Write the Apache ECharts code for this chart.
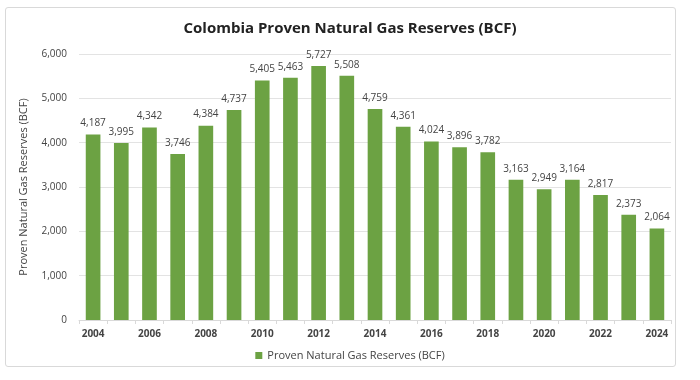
<!DOCTYPE html>
<html><head><meta charset="utf-8">
<script src="https://cdn.jsdelivr.net/npm/echarts@6/dist/echarts.min.js"></script>
<style>html,body{margin:0;padding:0;background:#fff}#frame{position:absolute;left:5px;top:7px;width:671px;height:360px;border:1px solid #d9d9d9;border-radius:3px;box-sizing:border-box}#c{width:700px;height:380px;position:absolute;left:0;top:0}</style>
</head><body><div id="frame"></div><div id="c"></div>
<script>
const years = ['2004','2005','2006','2007','2008','2009','2010','2011','2012','2013','2014','2015','2016','2017','2018','2019','2020','2021','2022','2023','2024'];
const reserves = [4187,3995,4342,3746,4384,4737,5405,5463,5727,5508,4759,4361,4024,3896,3782,3163,2949,3164,2817,2373,2064];
const seriesName = 'Proven Natural Gas Reserves (BCF)';
const titleText = 'Colombia Proven Natural Gas Reserves (BCF)';
const fmt = v => v.toLocaleString('en-US');
const font = '"Open Sans", "Noto Sans", sans-serif';
const chart = echarts.init(document.getElementById('c'));
chart.setOption({
  animation:false,
  textStyle:{fontFamily:font},
  title:{text:titleText,left:'center',top:16,textStyle:{fontSize:15,fontWeight:'bold',color:'#222',fontFamily:font}},
  legend:{bottom:14,left:'center',itemWidth:7,itemHeight:7,icon:'rect',textStyle:{fontSize:11,color:'#444'},data:[seriesName]},
  grid:{left:79,right:29,top:54,bottom:60},
  xAxis:{type:'category',data:years,
    axisLine:{lineStyle:{color:'#d9d9d9'}},
    axisTick:{show:true,alignWithLabel:false,interval:0,length:4,lineStyle:{color:'#d9d9d9'}},
    axisLabel:{interval:1,fontSize:10,fontWeight:'bold',color:'#444',margin:9}},
  yAxis:{type:'value',min:0,max:6000,interval:1000,
    name:seriesName,nameLocation:'middle',nameGap:50,nameTextStyle:{fontSize:11,color:'#444'},
    axisLabel:{formatter:fmt,fontSize:10,color:'#444',margin:12},
    splitLine:{lineStyle:{color:'#e3e3e3'}},axisLine:{show:false},axisTick:{show:false}},
  series:[{name:seriesName,type:'bar',data:reserves,barWidth:'52%',
    itemStyle:{color:'#6ca243'},
    label:{show:true,position:'top',formatter:p=>fmt(p.value),fontSize:10,color:'#444',distance:6}}]
});
</script></body></html>
